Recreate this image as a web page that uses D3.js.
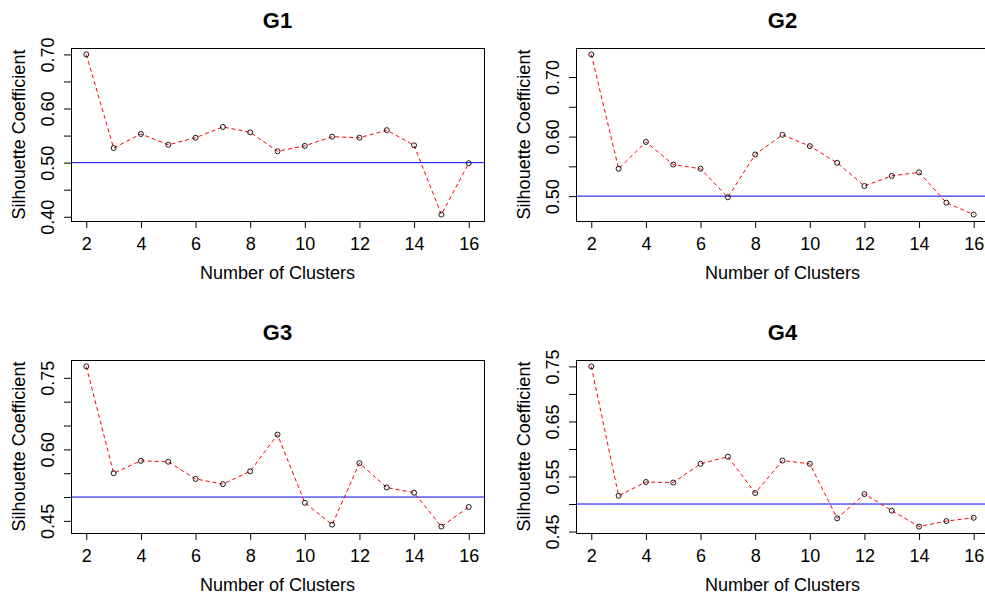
<!DOCTYPE html>
<html lang="en">
	<head>
		<meta charset="utf-8">
		<title>Silhouette Coefficient</title>
		<script type="text/javascript" src="https://cdn.jsdelivr.net/npm/d3@7"></script>
		<style type="text/css">
			body {
				margin: 0px;
				background: white;
			}
			text {
				font-family: "Liberation Sans", Arial, sans-serif;
				fill: black;
			}
		</style>
	</head>
	<body>
		<div id="chart"></div>
		<script type="text/javascript">
			//Data
			var clusters = [2, 3, 4, 5, 6, 7, 8, 9, 10, 11, 12, 13, 14, 15, 16];
			var g1 = [0.700, 0.527, 0.553, 0.533, 0.546, 0.566, 0.556, 0.521, 0.531, 0.548, 0.546, 0.560, 0.532, 0.404, 0.499];
			var g2 = [0.738, 0.546, 0.591, 0.553, 0.546, 0.498, 0.570, 0.603, 0.584, 0.556, 0.517, 0.534, 0.540, 0.489, 0.469];
			var g3 = [0.774, 0.550, 0.576, 0.574, 0.538, 0.527, 0.554, 0.631, 0.488, 0.442, 0.571, 0.520, 0.509, 0.438, 0.479];
			var g4 = [0.750, 0.515, 0.540, 0.539, 0.573, 0.586, 0.520, 0.579, 0.573, 0.474, 0.518, 0.488, 0.459, 0.469, 0.475];
			var titles = ["G1", "G2", "G3", "G4"];
			var threshold = 0.5;

			//Tick values and which ones get a label
			var xTicks = [2, 4, 6, 8, 10, 12, 14, 16];
			var yTicks1 = [0.40, 0.45, 0.50, 0.55, 0.60, 0.65, 0.70];
			var yTicks2 = [0.50, 0.55, 0.60, 0.65, 0.70];
			var yTicks3 = [0.45, 0.50, 0.55, 0.60, 0.65, 0.70, 0.75];
			var yTicks4 = [0.45, 0.50, 0.55, 0.60, 0.65, 0.70, 0.75];
			var yLabels1 = ["0.40", "0.50", "0.60", "0.70"];
			var yLabels2 = ["0.50", "0.60", "0.70"];
			var yLabels3 = ["0.45", "0.60", "0.75"];
			var yLabels4 = ["0.45", "0.55", "0.65", "0.75"];

			//Overall setup
			var w = 985;
			var h = 595;

			var svg = d3.select("#chart")
				.append("svg")
				.attr("width", w)
				.attr("height", h);

			//Plot regions (left, top) of each panel box
			var panels = [
				{ title: titles[0], values: g1, ticks: yTicks1, labels: yLabels1, left: 71, top: 48 },
				{ title: titles[1], values: g2, ticks: yTicks2, labels: yLabels2, left: 576, top: 48 },
				{ title: titles[2], values: g3, ticks: yTicks3, labels: yLabels3, left: 71, top: 360 },
				{ title: titles[3], values: g4, ticks: yTicks4, labels: yLabels4, left: 576, top: 360 }
			];
			var pw = 413;
			var ph = 173;

			//R style range: data extent padded by 4%
			const pad = function(ext) {
				var d = (ext[1] - ext[0]) * 0.04;
				return [ext[0] - d, ext[1] + d];
			}

			panels.forEach(function(p) {
				var g = svg.append("g")
					.attr("transform", "translate(" + p.left + "," + p.top + ")");

				var x = d3.scaleLinear()
					.domain(pad(d3.extent(clusters)))
					.range([0, pw]);

				var y = d3.scaleLinear()
					.domain(pad(d3.extent(p.values)))
					.range([ph, 0]);

				//Clip so the plot box is not drawn past its edges
				var fmt = d3.format(".2f");

				//x axis
				var xa = g.append("g")
					.attr("transform", "translate(0," + ph + ")")
					.call(d3.axisBottom(x)
						.tickValues(xTicks)
						.tickSize(7)
						.tickFormat(d3.format("d")));
				xa.select(".domain").remove();
				xa.selectAll("line").attr("stroke", "black");
				xa.selectAll("text")
					.attr("y", 29)
					.attr("dy", 0)
					.style("font-size", "18px")
					.style("font-family", "'Liberation Sans', Arial, sans-serif");

				//y axis
				var ya = g.append("g")
					.call(d3.axisLeft(y)
						.tickValues(p.ticks)
						.tickSize(7)
						.tickFormat(function(d) {
							return p.labels.indexOf(fmt(d)) >= 0 ? fmt(d) : "";
						}));
				ya.select(".domain").remove();
				ya.selectAll("line").attr("stroke", "black");
				ya.selectAll("text")
					.attr("transform", "rotate(-90)")
					.attr("x", 0)
					.attr("y", -17)
					.attr("dy", 0)
					.attr("text-anchor", "middle")
					.style("font-size", "18px")
					.style("font-family", "'Liberation Sans', Arial, sans-serif");

				//Threshold line
				g.append("line")
					.attr("x1", 0)
					.attr("x2", pw)
					.attr("y1", y(threshold))
					.attr("y2", y(threshold))
					.attr("stroke", "blue")
					.attr("stroke-width", 1);

				//Dashed series line
				var line = d3.line()
					.x(function(d, i) { return x(clusters[i]); })
					.y(function(d) { return y(d); });

				g.append("path")
					.datum(p.values)
					.attr("d", line)
					.attr("fill", "none")
					.attr("stroke", "red")
					.attr("stroke-width", 1)
					.attr("stroke-dasharray", "4,3");

				//Open circles
				g.selectAll("circle")
					.data(p.values)
					.enter()
					.append("circle")
					.attr("cx", function(d, i) { return x(clusters[i]); })
					.attr("cy", function(d) { return y(d); })
					.attr("r", 2.5)
					.attr("fill", "none")
					.attr("stroke", "black")
					.attr("stroke-width", 0.9);

				//Box
				g.append("rect")
					.attr("x", 0.5)
					.attr("y", 0.5)
					.attr("width", pw)
					.attr("height", ph)
					.attr("fill", "none")
					.attr("stroke", "black")
					.attr("stroke-width", 1);

				//Titles
				g.append("text")
					.attr("x", pw / 2)
					.attr("y", -20)
					.attr("text-anchor", "middle")
					.style("font-size", "22px")
					.style("font-weight", "bold")
					.text(p.title);

				g.append("text")
					.attr("x", pw / 2)
					.attr("y", ph + 58)
					.attr("text-anchor", "middle")
					.style("font-size", "18px")
					.text("Number of Clusters");

				g.append("text")
					.attr("transform", "rotate(-90)")
					.attr("x", -ph / 2)
					.attr("y", -46)
					.attr("text-anchor", "middle")
					.style("font-size", "18px")
					.text("Silhouette Coefficient");
			});
		</script>
	</body>
</html>
